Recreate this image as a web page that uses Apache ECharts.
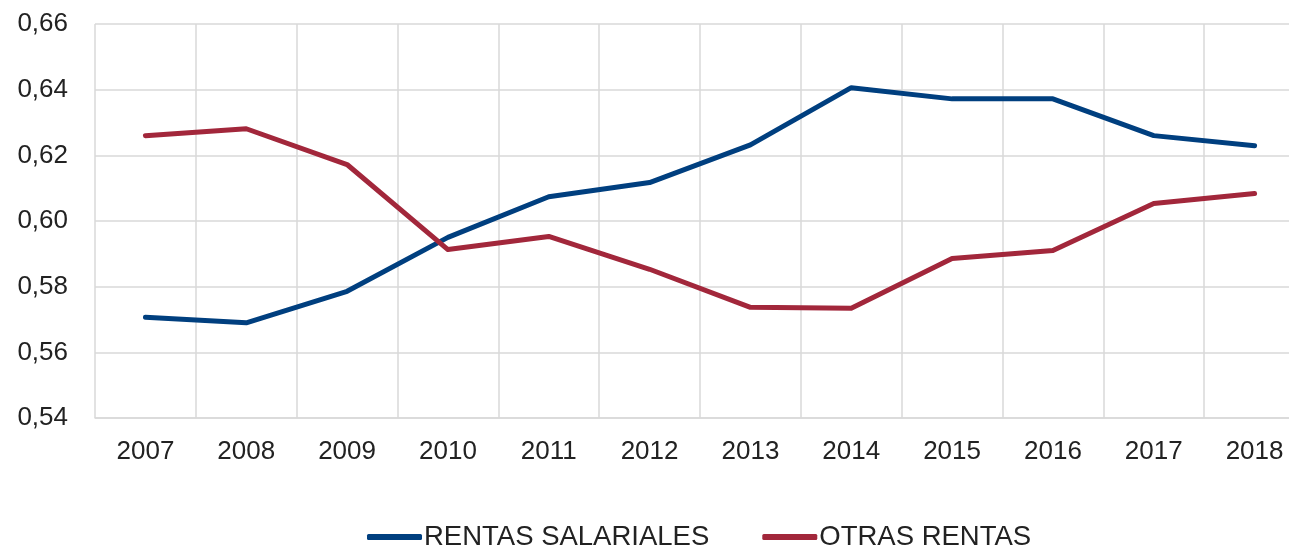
<!DOCTYPE html>
<html>
<head>
<meta charset="utf-8">
<script src="https://cdn.jsdelivr.net/npm/echarts@6/dist/echarts.min.js"></script>
<style>
  html, body { margin: 0; padding: 0; background: #fff; }
  #main { width: 1289px; height: 546px; }
</style>
</head>
<body>
<div id="main"></div>
<script>
var years = ['2007', '2008', '2009', '2010', '2011', '2012', '2013', '2014', '2015', '2016', '2017', '2018'];
var rentasSalariales = [0.5707, 0.5690, 0.5786, 0.5950, 0.6074, 0.6117, 0.6232, 0.6406, 0.6372, 0.6372, 0.6260, 0.6229];
var otrasRentas = [0.6260, 0.6281, 0.6172, 0.5913, 0.5953, 0.5853, 0.5737, 0.5734, 0.5886, 0.5910, 0.6053, 0.6084];

var myChart = echarts.init(document.getElementById('main'));
var option = {
    animation: false,
    textStyle: { fontFamily: 'Liberation Sans, Arial, sans-serif' },
    grid: { left: 95, top: 24, width: 1210, height: 394, outerBoundsMode: 'none', containLabel: false },
    legend: {
        top: 518,
        left: 362,
        itemGap: 53,
        itemWidth: 55,
        itemHeight: 6,
        icon: 'roundRect',
        textStyle: { fontSize: 27.5, color: '#222', padding: [0, 0, 0, -3] },
        data: ['RENTAS SALARIALES', 'OTRAS RENTAS']
    },
    xAxis: {
        type: 'category',
        data: years,
        boundaryGap: true,
        axisLine: { lineStyle: { color: '#d9d9d9', width: 1.5 } },
        axisTick: { show: false },
        splitLine: { show: true, lineStyle: { color: '#d9d9d9', width: 1.5 } },
        axisLabel: { fontSize: 26, color: '#222', margin: 21 }
    },
    yAxis: {
        type: 'value',
        min: 0.54,
        max: 0.66,
        interval: 0.02,
        axisLine: { show: false },
        axisTick: { show: false },
        splitLine: { lineStyle: { color: '#d9d9d9', width: 1.5 } },
        axisLabel: {
            fontSize: 26,
            color: '#222',
            margin: 27,
            formatter: function (v) { return v.toFixed(2).replace('.', ','); }
        }
    },
    series: [
        {
            name: 'RENTAS SALARIALES',
            type: 'line',
            data: rentasSalariales,
            symbol: 'none',
            itemStyle: { color: '#003f7f' },
            lineStyle: { width: 5, color: '#003f7f', cap: 'round', join: 'round' }
        },
        {
            name: 'OTRAS RENTAS',
            type: 'line',
            data: otrasRentas,
            symbol: 'none',
            itemStyle: { color: '#a2273b' },
            lineStyle: { width: 5, color: '#a2273b', cap: 'round', join: 'round' }
        }
    ]
};
myChart.setOption(option);
</script>
</body>
</html>
